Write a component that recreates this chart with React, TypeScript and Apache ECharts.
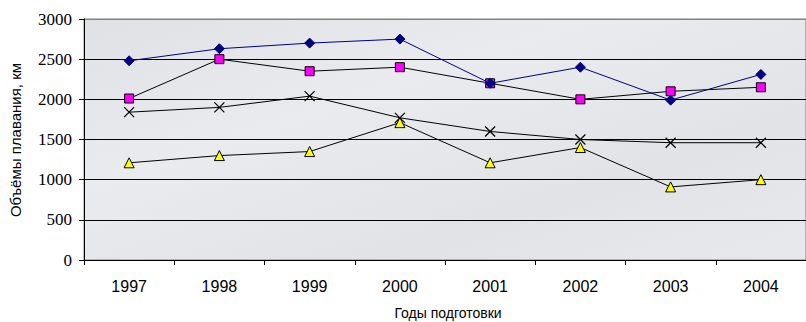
import React, { useEffect, useRef } from "react";
import * as echarts from "echarts";

const years = ["1997", "1998", "1999", "2000", "2001", "2002", "2003", "2004"];
const seriesDiamond = [2480, 2630, 2700, 2750, 2200, 2400, 1990, 2310];
const seriesSquare = [2010, 2500, 2350, 2400, 2200, 2000, 2100, 2150];
const seriesCross = [1840, 1900, 2040, 1770, 1600, 1500, 1460, 1460];
const seriesTriangle = [1210, 1300, 1350, 1710, 1210, 1400, 910, 1000];
const yTitle = "Объёмы плавания, км";
const xTitle = "Годы подготовки";

export default function App() {
  const ref = useRef<HTMLDivElement>(null);
  useEffect(() => {
    if (!ref.current) return;
    const chart = echarts.init(ref.current, null, { renderer: "svg" });
    chart.setOption({
      animation: false,
      backgroundColor: "#ffffff",
      grid: {
        left: 84,
        top: 19,
        width: 728,
        height: 241,
        show: true,
        backgroundColor: {
          type: "linear",
          x: 0,
          y: 0,
          x2: 1,
          y2: 1,
          colorStops: [
            { offset: 0, color: "#e0e1e5" },
            { offset: 0.35, color: "#eaebee" },
            { offset: 0.7, color: "#e2e3e7" },
            { offset: 1, color: "#e8e9ec" },
          ],
        },
        borderColor: "#808080",
        borderWidth: 1,
      },
      xAxis: {
        type: "category",
        data: years,
        boundaryGap: true,
        axisLine: { show: true, lineStyle: { color: "#000", width: 1 } },
        axisTick: { show: true, interval: 0, length: 5, lineStyle: { color: "#000" } },
        axisLabel: {
          margin: 18,
          color: "#000",
          fontFamily: "Arial",
          fontSize: 16,
          interval: 0,
        },
        splitLine: { show: false },
      },
      yAxis: {
        type: "value",
        min: 0,
        max: 3000,
        interval: 500,
        axisLine: { show: true, lineStyle: { color: "#000", width: 1 } },
        axisTick: { show: true, length: 5, lineStyle: { color: "#000" } },
        axisLabel: {
          margin: 12,
          color: "#000",
          fontFamily: "serif",
          fontSize: 17,
          formatter: (v: number) => String(v),
        },
        splitLine: {
          show: true,
          lineStyle: {
            color: ["#000", "#000", "#000", "#000", "#000", "#000", "#808080"],
            width: 1,
          },
        },
      },
      graphic: [
        {
          type: "text",
          x: 15,
          y: 140,
          rotation: Math.PI / 2,
          style: {
            text: yTitle,
            fill: "#000",
            fontFamily: "Arial",
            fontSize: 15,
            align: "center",
            verticalAlign: "middle",
          },
        },
        {
          type: "text",
          x: 448,
          y: 313,
          style: {
            text: xTitle,
            fill: "#000",
            fontFamily: "Arial",
            fontSize: 14,
            align: "center",
            verticalAlign: "middle",
          },
        },
      ],
      series: [
        {
          type: "line",
          data: seriesDiamond,
          symbol: "diamond",
          symbolSize: 10,
          lineStyle: { color: "#000080", width: 1 },
          itemStyle: { color: "#000080", borderColor: "#000080", borderWidth: 1 },
          z: 4,
        },
        {
          type: "line",
          data: seriesSquare,
          symbol: "rect",
          symbolSize: 9,
          lineStyle: { color: "#000", width: 1 },
          itemStyle: { color: "#ff00ff", borderColor: "#000", borderWidth: 1 },
          z: 3,
        },
        {
          type: "line",
          data: seriesCross,
          symbol: "path://M0,0L10,10M10,0L0,10",
          symbolSize: 10,
          lineStyle: { color: "#000", width: 1 },
          itemStyle: { color: "none", borderColor: "#000", borderWidth: 1.2 },
          z: 3,
        },
        {
          type: "line",
          data: seriesTriangle,
          symbol: "triangle",
          symbolSize: 10,
          lineStyle: { color: "#000", width: 1 },
          itemStyle: { color: "#ffff00", borderColor: "#000", borderWidth: 1 },
          z: 3,
        },
      ],
    });
    return () => chart.dispose();
  }, []);
  return (
    <div
      ref={ref}
      style={{ position: "fixed", left: 0, top: 0, width: 806, height: 322 }}
    />
  );
}
